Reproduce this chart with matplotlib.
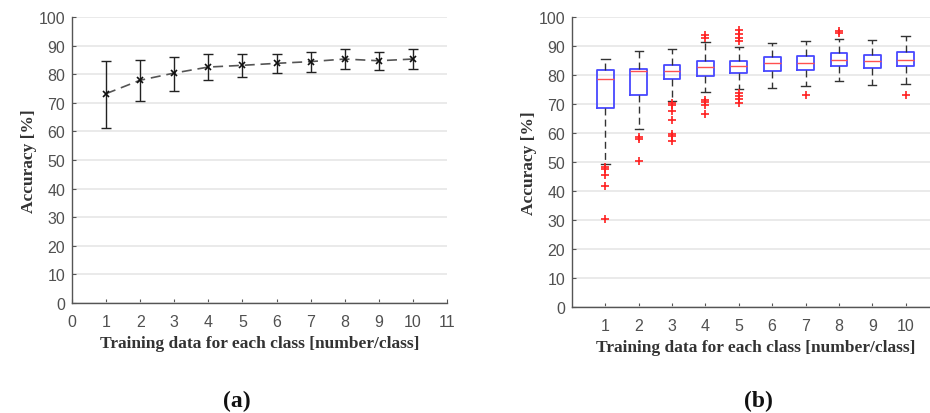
import matplotlib
matplotlib.use("Agg")
import matplotlib.pyplot as plt

# (a) mean accuracy with error bars
n_train = [1, 2, 3, 4, 5, 6, 7, 8, 9, 10]
acc_mean = [73.2, 77.9, 80.4, 82.5, 83.1, 83.8, 84.4, 85.3, 84.7, 85.3]
acc_hi = [84.6, 84.8, 86.1, 86.9, 86.9, 86.9, 87.9, 88.8, 87.9, 88.8]
acc_lo = [61.3, 70.6, 74.3, 77.9, 79.1, 80.3, 80.6, 81.9, 81.3, 81.9]

# (b) box plot statistics
box_whislo = [49.2, 61.5, 71.1, 74.1, 75.3, 75.6, 76.2, 77.9, 76.7, 76.9]
box_q1 = [68.5, 73.0, 78.5, 79.7, 80.6, 81.4, 81.8, 83.2, 82.3, 83.2]
box_med = [78.7, 81.3, 81.3, 82.8, 83.0, 84.0, 84.1, 85.3, 84.8, 85.3]
box_q3 = [81.8, 82.2, 83.6, 84.8, 84.8, 86.1, 86.4, 87.6, 86.8, 87.9]
box_whishi = [85.6, 88.2, 88.9, 91.3, 89.5, 91.0, 91.7, 92.5, 92.0, 93.3]
box_fliers = [
    [48.3, 47.6, 45.4, 41.7, 30.3],
    [58.6, 58.0, 50.5],
    [70.3, 69.6, 67.5, 64.4, 59.8, 59.0, 57.2],
    [93.7, 92.8, 71.5, 70.7, 69.5, 66.7],
    [95.4, 94.3, 92.9, 91.6, 73.8, 72.8, 71.6, 70.5],
    [],
    [73.2],
    [95.2, 94.6],
    [],
    [73.1],
]

xlabel = "Training data for each class [number/class]"
ylabel = "Accuracy [%]"

plt.rcParams['font.family'] = ['Liberation Sans', 'DejaVu Sans']
tick_col = '#505050'
grid_col = '#e6e6e6'
label_font = dict(family='Liberation Serif', weight='bold', size=12.5, color='#333333')

fig = plt.figure(figsize=(9.3, 4.14), dpi=100)
ax1 = fig.add_axes([72 / 930, 1 - 304 / 414, 375 / 930, 286 / 414])
ax2 = fig.add_axes([572 / 930, 1 - 308 / 414, 367 / 930, 290 / 414])

for ax in (ax1, ax2):
    ax.set_ylim(0, 100)
    ax.set_yticks(range(0, 101, 10))
    ax.set_xlim(0, 11)
    ax.grid(axis='y', color=grid_col, lw=1.2)
    ax.set_axisbelow(True)
    for s in ('top', 'right'):
        ax.spines[s].set_visible(False)
    for s in ('left', 'bottom'):
        ax.spines[s].set_color('#555555')
        ax.spines[s].set_linewidth(1.0)
    ax.tick_params(direction='in', length=3, colors='#555555', labelcolor=tick_col,
                   labelsize=11.5)
    ax.tick_params(axis='x', pad=8)
    ax.tick_params(axis='y', pad=5)
    ax.set_xlabel(xlabel, fontdict=label_font, labelpad=4)
    ax.set_ylabel(ylabel, fontdict=label_font, labelpad=1)

# (a)
ax1.set_xticks(range(0, 12))
yerr = [[m - l for m, l in zip(acc_mean, acc_lo)], [h - m for m, h in zip(acc_mean, acc_hi)]]
ax1.errorbar(n_train, acc_mean, yerr=yerr, fmt='none', ecolor='#222222', elinewidth=1.0,
             capsize=3.5, capthick=1.0, zorder=3)
ax1.plot(n_train, acc_mean, ls=(0, (6, 3.5)), color='#555555', lw=1.2, marker='x',
         ms=5, mec='#111111', mew=1.2, zorder=4)

# (b)
stats = []
for i in range(len(n_train)):
    stats.append(dict(med=box_med[i], q1=box_q1[i], q3=box_q3[i],
                      whislo=box_whislo[i], whishi=box_whishi[i], fliers=box_fliers[i]))
ax2.bxp(stats, positions=n_train, widths=0.5, showfliers=True,
        boxprops=dict(color='#4848ff', lw=1.3),
        medianprops=dict(color='#ff5050', lw=1.0),
        whiskerprops=dict(color='#333333', lw=1.0, ls=(0, (5, 3))),
        capprops=dict(color='#333333', lw=1.0),
        flierprops=dict(marker='+', mec='#ff2020', ms=6, mew=1.2, ls='none'),
        capwidths=0.25)
ax2.set_xticks(n_train)
ax2.set_xticklabels([str(v) for v in n_train])
ax2.set_xlim(0, 11)

fig.text(237 / 930, 1 - 401 / 414, "(a)", ha='center', va='center',
         fontsize=17, fontfamily='Liberation Serif', fontweight='bold', color='#111111')
fig.text(758 / 930, 1 - 401 / 414, "(b)", ha='center', va='center',
         fontsize=17, fontfamily='Liberation Serif', fontweight='bold', color='#111111')

fig.savefig("out.png", dpi=100)
